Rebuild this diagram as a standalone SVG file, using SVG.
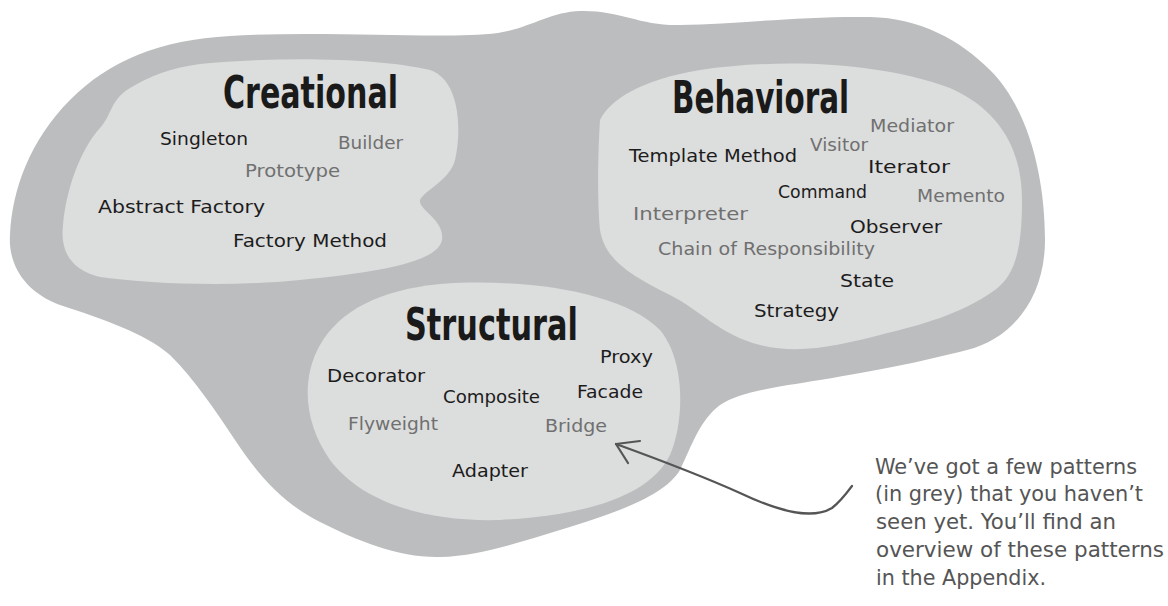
<svg xmlns="http://www.w3.org/2000/svg" width="1168" height="606" viewBox="0 0 1168 606">
<style>
.outer{fill:#bcbdbe}
.inner{fill:#dcdddd}
.title{font-family:"DejaVu Sans Condensed","DejaVu Sans",sans-serif;font-weight:bold;font-stretch:condensed;font-size:44px;fill:#1a1a1a}
.k{font-family:"DejaVu Sans","Noto Sans",sans-serif;font-size:17px;fill:#1c1c1c}
.g{font-family:"DejaVu Sans","Noto Sans",sans-serif;font-size:17px;fill:#707070}
.note{font-family:"DejaVu Sans Condensed","DejaVu Sans",sans-serif;font-stretch:condensed;font-size:21px;fill:#555555}
.arrow{fill:none;stroke:#555555;stroke-width:2.2;stroke-linecap:round;stroke-linejoin:round}
</style>
<rect width="1168" height="606" fill="#ffffff"/>
<g id="patterns-area">
<path class="outer" d="M 230,36 C 330,30 440,40 498,33 C 530,28 550,12 580,11 C 620,10 640,26 680,25 C 740,24 800,16 870,17 C 920,18 960,40 990,70 C 1030,110 1045,180 1045,240 C 1045,300 1010,340 967,350 C 920,362 880,370 820,380 C 770,388 740,392 720,405 C 700,420 692,445 680,470 C 665,495 620,512 560,530 C 520,542 480,556 440,557 C 400,558 360,542 320,522 C 280,502 255,470 235,440 C 215,410 195,380 170,355 C 145,333 100,318 60,305 C 25,292 8,265 10,235 C 12,190 30,140 70,100 C 110,60 160,40 230,36 Z"/>
</g>
<g id="creational">
<path class="inner" d="M 200,64 C 280,56 380,58 430,70 C 460,80 462,130 455,160 C 450,180 425,190 420,200 C 418,210 445,220 442,240 C 438,262 380,272 300,280 C 230,287 150,284 100,277 C 70,270 60,250 63,225 C 66,190 80,150 100,128 C 112,115 110,100 130,88 C 150,76 170,68 200,64 Z"/>
<text class="title" transform="matrix(0.7 0 0 1 223 108)" x="0" y="0" textLength="250" lengthAdjust="spacingAndGlyphs">Creational</text>
<text class="k" x="160" y="145" textLength="88" lengthAdjust="spacingAndGlyphs">Singleton</text>
<text class="g" x="338" y="149" textLength="65" lengthAdjust="spacingAndGlyphs">Builder</text>
<text class="g" x="245" y="177" textLength="95" lengthAdjust="spacingAndGlyphs">Prototype</text>
<text class="k" x="98" y="213" textLength="167" lengthAdjust="spacingAndGlyphs">Abstract Factory</text>
<text class="k" x="233" y="247" textLength="154" lengthAdjust="spacingAndGlyphs">Factory Method</text>
</g>
<g id="behavioral">
<path class="inner" d="M 600,120 C 610,100 640,80 700,70 C 780,58 880,62 950,88 C 1000,110 1022,150 1022,200 C 1022,250 1015,275 995,290 C 960,315 920,325 880,335 C 840,345 800,355 760,345 C 720,335 700,310 670,295 C 630,275 605,260 600,230 C 597,200 598,150 600,120 Z"/>
<text class="title" transform="matrix(0.7 0 0 1 672 113)" x="0" y="0" textLength="253" lengthAdjust="spacingAndGlyphs">Behavioral</text>
<text class="g" x="870" y="132" textLength="84" lengthAdjust="spacingAndGlyphs">Mediator</text>
<text class="g" x="810" y="151" textLength="58" lengthAdjust="spacingAndGlyphs">Visitor</text>
<text class="k" x="629" y="162" textLength="168" lengthAdjust="spacingAndGlyphs">Template Method</text>
<text class="k" x="868" y="173" textLength="82" lengthAdjust="spacingAndGlyphs">Iterator</text>
<text class="k" x="778" y="198" textLength="89" lengthAdjust="spacingAndGlyphs">Command</text>
<text class="g" x="917" y="202" textLength="88" lengthAdjust="spacingAndGlyphs">Memento</text>
<text class="g" x="633" y="220" textLength="115" lengthAdjust="spacingAndGlyphs">Interpreter</text>
<text class="k" x="850" y="233" textLength="92" lengthAdjust="spacingAndGlyphs">Observer</text>
<text class="g" x="658" y="255" textLength="217" lengthAdjust="spacingAndGlyphs">Chain of Responsibility</text>
<text class="k" x="840" y="287" textLength="54" lengthAdjust="spacingAndGlyphs">State</text>
<text class="k" x="754" y="317" textLength="85" lengthAdjust="spacingAndGlyphs">Strategy</text>
</g>
<g id="structural">
<path class="inner" d="M 440,284 C 520,278 620,290 660,330 C 685,360 685,420 670,455 C 650,495 590,515 500,520 C 420,522 360,500 330,460 C 305,425 300,380 320,345 C 340,310 380,290 440,284 Z"/>
<text class="title" transform="matrix(0.7 0 0 1 405 340)" x="0" y="0" textLength="247" lengthAdjust="spacingAndGlyphs">Structural</text>
<text class="k" x="600" y="363" textLength="53" lengthAdjust="spacingAndGlyphs">Proxy</text>
<text class="k" x="327" y="382" textLength="98" lengthAdjust="spacingAndGlyphs">Decorator</text>
<text class="k" x="443" y="403" textLength="97" lengthAdjust="spacingAndGlyphs">Composite</text>
<text class="k" x="577" y="398" textLength="66" lengthAdjust="spacingAndGlyphs">Facade</text>
<text class="g" x="348" y="430" textLength="90" lengthAdjust="spacingAndGlyphs">Flyweight</text>
<text class="g" x="545" y="432" textLength="62" lengthAdjust="spacingAndGlyphs">Bridge</text>
<text class="k" x="452" y="477" textLength="76" lengthAdjust="spacingAndGlyphs">Adapter</text>
</g>
<g id="connectors">
<path class="arrow" d="M 852,486 C 846,494 840,502 832,508 C 812,520 780,512 740,493 C 700,475 660,460 616,444"/>
<path class="arrow" d="M 640,441 L 616,444 L 628,463"/>
</g>
<g id="note">
<text class="note" x="875" y="474" textLength="262" lengthAdjust="spacingAndGlyphs">We’ve got a few patterns</text>
<text class="note" x="875" y="501" textLength="268" lengthAdjust="spacingAndGlyphs">(in grey) that you haven’t</text>
<text class="note" x="876" y="529" textLength="240" lengthAdjust="spacingAndGlyphs">seen yet. You’ll find an</text>
<text class="note" x="876" y="557" textLength="288" lengthAdjust="spacingAndGlyphs">overview of these patterns</text>
<text class="note" x="876" y="585" textLength="170" lengthAdjust="spacingAndGlyphs">in the Appendix.</text>
</g>
</svg>
